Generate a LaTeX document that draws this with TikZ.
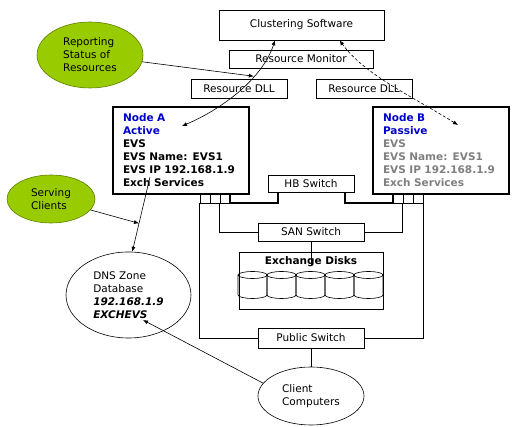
\documentclass[tikz,border=0pt]{standalone}
\usepackage{fontspec}
\setmainfont{DejaVu Sans}
\usetikzlibrary{arrows.meta,shapes.geometric}
\definecolor{leafgreen}{HTML}{99CC00}
\definecolor{leafedge}{HTML}{5E7D00}
\definecolor{nodeblue}{HTML}{0000CC}
\definecolor{idlegrey}{HTML}{808080}

\begin{document}
\begin{tikzpicture}[x=1pt, y=-1pt,
  every node/.style={font=\fontsize{10.5}{13}\selectfont},
  box/.style={draw, line width=0.6pt, inner sep=0pt},
  server/.style={draw, line width=2.4pt, inner xsep=10pt, text width=116pt,
    minimum height=87pt, align=left, font=\fontsize{10.5}{13}\selectfont\bfseries},
  port/.style={draw, line width=0.6pt, minimum width=10pt, minimum height=9pt, inner sep=0pt},
  bubble/.style={ellipse, draw=leafedge, fill=leafgreen, line width=0.6pt, align=left, inner sep=0pt},
  cloud/.style={ellipse, draw, line width=0.6pt, align=left, inner sep=0pt},
  link/.style={line width=0.6pt},
  hbline/.style={line width=1.8pt},
  arr/.style={line width=0.6pt, -{Latex[length=5pt,width=4pt]}},
  twoway/.style={line width=0.6pt, {Latex[length=5pt,width=4pt]}-{Latex[length=5pt,width=4pt]}}]
\useasboundingbox (0,0) rectangle (512,427);

% cluster software stack
\node[box, minimum width=165pt, minimum height=30pt] (cluster) at (301.5,25) {Clustering Software};
\node[box, minimum width=144pt, minimum height=18pt] (monitor) at (301,59) {Resource Monitor};
\node[box, minimum width=96pt, minimum height=19pt] (dllA) at (239,88.5) {Resource DLL};
\node[box, minimum width=96pt, minimum height=19pt] (dllB) at (364,88.5) {Resource DLL};

% the two nodes
\node[server] (nodeA) at (181,150.5) {\textcolor{nodeblue}{Node A}\\\textcolor{nodeblue}{Active}\\EVS\\EVS Name: EVS1\\EVS IP 192.168.1.9\\Exch Services};
\node[server, text=idlegrey] (nodeB) at (441,150.5) {\textcolor{nodeblue}{Node B}\\\textcolor{nodeblue}{Passive}\\EVS\\EVS Name: EVS1\\EVS IP 192.168.1.9\\Exch Services};

% network ports
\node[port] (pA1) at (205,198.5) {};
\node[port] (pA2) at (215,198.5) {};
\node[port] (pA3) at (225,198.5) {};
\node[port] (pB1) at (398,198.5) {};
\node[port] (pB2) at (408,198.5) {};
\node[port] (pB3) at (418,198.5) {};

% switches and storage
\node[box, minimum width=86pt, minimum height=17pt] (hb) at (311,184) {HB Switch};
\node[box, minimum width=106pt, minimum height=18pt] (san) at (311,232) {SAN Switch};
\node[box, minimum width=144pt, minimum height=57pt] (disks) at (311,280.5) {};
\node[font=\fontsize{10.5}{13}\selectfont\bfseries] (disklabel) at (311,262) {Exchange Disks};
\foreach \cx in {252.5,281.5,310.5,339.5,368.5} {
  \draw[link] (\cx,275) ellipse [x radius=14.5pt, y radius=3.5pt];
  \draw[link] (\cx-14.5,275) -- (\cx-14.5,295) arc [start angle=180, end angle=360, x radius=14.5pt, y radius=3.5pt] -- (\cx+14.5,275);
}
\node[box, minimum width=106pt, minimum height=20pt] (pub) at (311,338) {Public Switch};

% clients and name service
\node[cloud, minimum width=106pt, minimum height=58pt] (client) at (311,396) {Client\\Computers};
\node[cloud, minimum width=125pt, minimum height=86pt] (dns) at (128.5,295) {DNS Zone\\Database\\\textbf{\textit{192.168.1.9}}\\\textbf{\textit{EXCHEVS}}};
\node[bubble, minimum width=106pt, minimum height=66pt] (report) at (90,55) {Reporting\\Status of\\Resources};
\node[bubble, minimum width=88pt, minimum height=48pt] (serve) at (51,199) {Serving\\Clients};

% cabling
\draw[hbline] (pA3.north east) -- (pA3.south east) -| ([xshift=10pt]hb.south west);
\draw[hbline] (pB1.north west) -- (pB1.south west) -| ([xshift=-9pt]hb.south east);
\draw[link] (pA1.south west) |- (pub.west);
\draw[link] (pA3.south west) |- (san.west);
\draw[link] (pB2.south west) |- (san.east);
\draw[link] (pB3.south east) |- (pub.east);
\draw[link] (san.south) -- (disklabel.base);
\draw[link] (pub.south) -- (client.north);

% arrows
\coordinate (aTip) at (182,126);
\coordinate (bTip) at (458,125);
\coordinate (evsip) at (150,177);
\coordinate (dnsin) at (143,320);
\draw[twoway] (aTip) .. controls (220,110) and (262,80) .. ([xshift=-26.5pt]cluster.south) coordinate[pos=0.67] (monA);
\draw[twoway, dash pattern=on 3pt off 2pt] (bTip) .. controls (410,95) and (365,75) .. ([xshift=38pt]cluster.south);
\draw[arr] (report) -- (monA);
\draw[arr] (evsip) -- coordinate[pos=0.62] (dnsA) (dns.85);
\draw[arr] (serve) -- (dnsA);
\draw[arr] (client.165) -- (dnsin);
\end{tikzpicture}
\end{document}
